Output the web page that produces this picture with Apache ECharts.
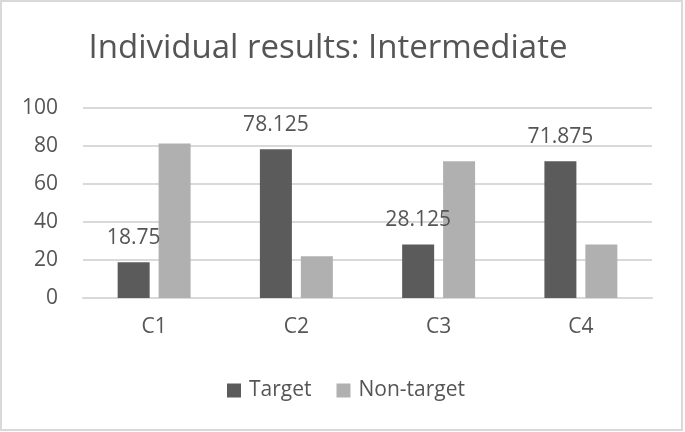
<!DOCTYPE html>
<html>
<head>
<meta charset="utf-8">
<script src="https://cdn.jsdelivr.net/npm/echarts@6/dist/echarts.min.js"></script>
<style>
html,body{margin:0;padding:0;background:#fff;}
#chart{width:685px;height:432px;}
</style>
</head>
<body>
<div id="chart"></div>
<script>
const titleText = 'Individual results: Intermediate';
const categories = ['C1', 'C2', 'C3', 'C4'];
const targetValues = [18.75, 78.125, 28.125, 71.875];
const nonTargetValues = [81.25, 21.875, 71.875, 28.125];
const seriesNames = ['Target', 'Non-target'];
const yTicks = [0, 20, 40, 60, 80, 100];

const FONT = '"Open Sans"';
const TEXT = '#555555';
const chart = echarts.init(document.getElementById('chart'), null, {renderer: 'canvas'});
chart.setOption({
  backgroundColor: '#ffffff',
  animation: false,
  textStyle: {fontFamily: FONT, color: TEXT},
  title: {
    text: titleText,
    left: 323,
    textAlign: 'center',
    top: 27,
    textStyle: {fontFamily: FONT, fontSize: 33, fontWeight: 'normal', color: TEXT}
  },
  graphic: [{
    type: 'rect',
    shape: {x: 1, y: 1, width: 681, height: 429},
    style: {fill: 'none', stroke: '#d9d9d9', lineWidth: 2},
    silent: true
  }],
  legend: {
    data: seriesNames,
    left: 222,
    top: 375,
    itemWidth: 14,
    itemHeight: 14,
    itemGap: 25,
    icon: 'rect',
    textStyle: {fontFamily: FONT, fontSize: 21, color: TEXT, padding: [0, 0, 0, 3]}
  },
  grid: {left: 83, right: 33, top: 107.7, bottom: 134, containLabel: false},
  xAxis: {
    type: 'category',
    data: categories,
    axisLine: {show: true, lineStyle: {color: '#d9d9d9', width: 2}},
    axisTick: {show: false},
    axisLabel: {fontFamily: FONT, fontSize: 21, color: TEXT, margin: 19}
  },
  yAxis: {
    type: 'value',
    min: yTicks[0],
    max: yTicks[yTicks.length - 1],
    interval: 20,
    axisLine: {show: false},
    axisTick: {show: false},
    axisLabel: {fontFamily: FONT, fontSize: 21, color: TEXT, margin: 25},
    splitLine: {lineStyle: {color: '#d9d9d9', width: 2}}
  },
  series: [
    {
      name: seriesNames[0],
      type: 'bar',
      data: targetValues,
      barWidth: 32,
      barGap: '28%',
      itemStyle: {color: '#5b5b5b'},
      label: {show: true, position: 'top', distance: 14, fontFamily: FONT, fontSize: 21, color: TEXT}
    },
    {
      name: seriesNames[1],
      type: 'bar',
      data: nonTargetValues,
      barWidth: 32,
      barGap: '28%',
      itemStyle: {color: '#b0b0b0'}
    }
  ]
});
</script>
</body>
</html>
